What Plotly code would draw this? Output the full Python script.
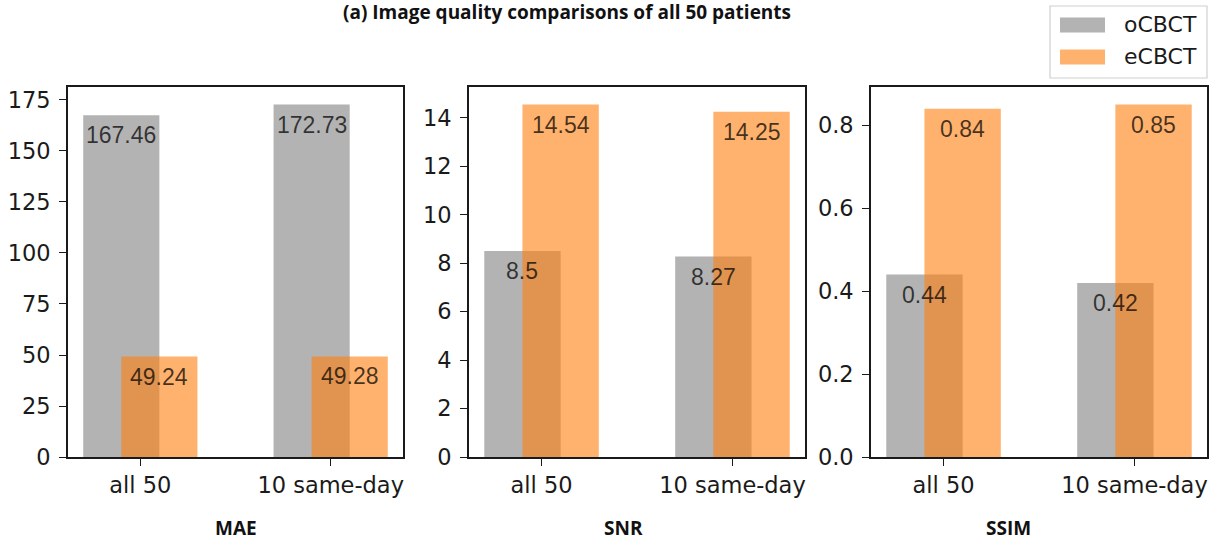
import plotly.graph_objects as go

# Data
groups = ["all 50", "10 same-day"]
metrics = ["MAE", "SNR", "SSIM"]
ocbct = {"MAE": [167.46, 172.73], "SNR": [8.5, 8.27], "SSIM": [0.44, 0.42]}
ecbct = {"MAE": [49.24, 49.28], "SNR": [14.54, 14.25], "SSIM": [0.84, 0.85]}
y_dtick = {"MAE": 25, "SNR": 2, "SSIM": 0.2}
y_fmt = {"MAE": "d", "SNR": "d", "SSIM": ".1f"}

W, H = 1225, 544
x_pos = [0, 1]
bar_w = 0.4
gray = "rgba(128,128,128,0.6)"
orange = "rgba(255,127,14,0.6)"
label_font = dict(family="Liberation Sans", size=23, color="rgba(0,0,0,0.72)")

domains = [(68, 403), (469, 805), (871, 1207)]
fig = go.Figure()
annotations = []

for i, m in enumerate(metrics):
    xa = "x" if i == 0 else f"x{i+1}"
    ya = "y" if i == 0 else f"y{i+1}"
    fig.add_trace(go.Bar(x=x_pos, y=ocbct[m], width=bar_w, offset=-0.3,
                         marker=dict(color=gray, line=dict(width=0)),
                         name="oCBCT", showlegend=False, xaxis=xa, yaxis=ya))
    fig.add_trace(go.Bar(x=x_pos, y=ecbct[m], width=bar_w, offset=-0.1,
                         marker=dict(color=orange, line=dict(width=0)),
                         name="eCBCT", showlegend=False, xaxis=xa, yaxis=ya))
    top = max(max(ocbct[m]), max(ecbct[m])) * 1.05
    d0, d1 = domains[i]
    axis_common = dict(showline=True, linecolor="#1a1a1a", linewidth=1.6, mirror=True,
                       ticks="outside", ticklen=7, tickwidth=1.4, tickcolor="#1a1a1a",
                       showgrid=False, zeroline=False,
                       tickfont=dict(family="DejaVu Sans", size=22.5, color="#1a1a1a"))
    fig.update_layout(**{
        ("xaxis" if i == 0 else f"xaxis{i+1}"): dict(
            domain=[d0 / W, d1 / W], range=[-0.38, 1.38], anchor=ya,
            tickvals=x_pos, ticktext=groups, **axis_common),
        ("yaxis" if i == 0 else f"yaxis{i+1}"): dict(
            domain=[0, 1], range=[0, top], anchor=xa, dtick=y_dtick[m],
            tick0=0, tickformat=y_fmt[m], ticklabelstandoff=4, **axis_common),
    })
    # value labels just below each bar top
    for xv, v in zip(x_pos, ocbct[m]):
        annotations.append(dict(x=xv - 0.1, y=v, xref=xa, yref=ya, text=str(v),
                                showarrow=False, yanchor="top", yshift=-5,
                                font=label_font))
    for xv, v in zip(x_pos, ecbct[m]):
        annotations.append(dict(x=xv + 0.1, y=v, xref=xa, yref=ya, text=str(v),
                                showarrow=False, yanchor="top", yshift=-5,
                                font=label_font))

# panel captions
for cx, m in zip([213, 623, 1033], metrics):
    annotations.append(dict(x=cx / W, y=-(528 - 457) / (457 - 87), xref="paper", yref="paper",
                            text=f"<b>{m}</b>", showarrow=False, yanchor="middle",
                            font=dict(family="Open Sans", size=19, color="#111")))

# figure title along the top edge
annotations.append(dict(x=567 / W, y=1, xref="paper", yref="paper",
                        text="<b>(a) Image quality comparisons of all 50 patients</b>",
                        showarrow=False, yanchor="bottom", yshift=87 - 1 - 26,
                        font=dict(family="Open Sans", size=19, color="#111")))

# legend
legend_items = [("oCBCT", gray), ("eCBCT", orange)]


def py(pix):
    return (H - 87 - pix) / (H - 174)


shapes = [dict(type="rect", xref="paper", yref="paper",
               x0=1050 / W, x1=1207 / W, y0=py(78), y1=py(6),
               line=dict(color="#d0d0d0", width=1.2), fillcolor="white", layer="above")]

for k, (lab, col) in enumerate(legend_items):
    cy = 25 + k * 32
    shapes.append(dict(type="rect", xref="paper", yref="paper",
                       x0=1060 / W, x1=1105 / W, y0=py(cy + 7.5), y1=py(cy - 7.5),
                       line=dict(width=0), fillcolor=col, layer="above"))
    annotations.append(dict(x=1122 / W, y=py(cy), xref="paper", yref="paper",
                            text=lab, showarrow=False, xanchor="left", yanchor="middle",
                            font=dict(family="DejaVu Sans", size=22, color="#1a1a1a")))

fig.update_layout(width=W, height=H, margin=dict(l=0, r=0, t=87, b=87),
                  barmode="overlay", plot_bgcolor="white", paper_bgcolor="white",
                  annotations=annotations, shapes=shapes, showlegend=False)

fig.write_html("out.html")
